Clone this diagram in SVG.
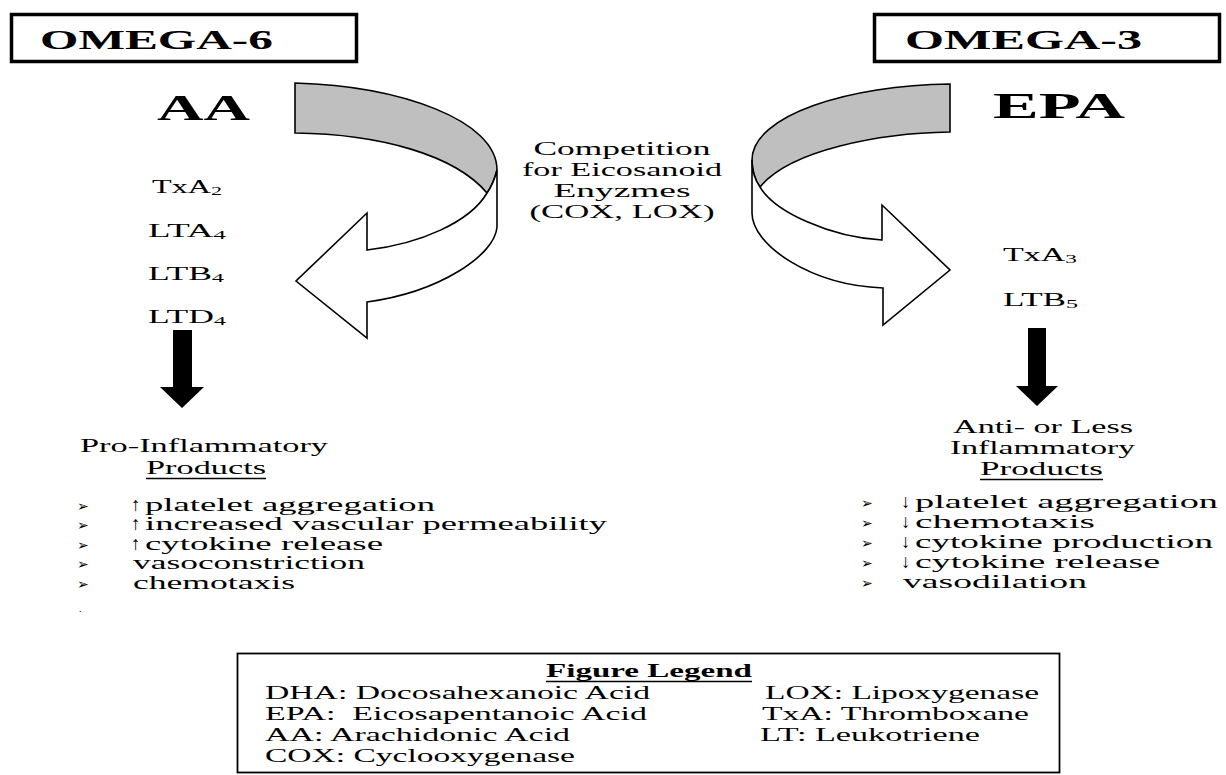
<svg xmlns="http://www.w3.org/2000/svg" width="1226" height="775" viewBox="0 0 1226 775">
<style>
text{font-family:"Liberation Serif","Times New Roman",serif;fill:#000}
.t{font-size:19px}
.lg{font-size:18px;white-space:pre}
.b{font-weight:bold}
.bul{font-family:"DejaVu Sans",sans-serif;font-size:14px}
.ar{font-size:19px}
.box{fill:#fff;stroke:#000}
.rib{stroke:#000;stroke-width:1.6;stroke-linejoin:miter}
.ul{stroke:#000;stroke-width:1.4}
</style>
<rect width="1226" height="775" fill="#fff"/>

<g id="omega6">
<rect class="box" x="11.5" y="14.5" width="345" height="47" stroke-width="3.5"/>
<text class="b" x="40" y="49" font-size="27" textLength="233" lengthAdjust="spacingAndGlyphs">OMEGA-6</text>
</g>
<g id="omega3">
<rect class="box" x="874.5" y="14.5" width="345" height="47" stroke-width="3.5"/>
<text class="b" x="905" y="49" font-size="27" textLength="237" lengthAdjust="spacingAndGlyphs">OMEGA-3</text>
</g>

<g id="aa">
<text class="b" x="157" y="120" font-size="36" textLength="93" lengthAdjust="spacingAndGlyphs">AA</text>
</g>
<g id="epa">
<text class="b" x="993" y="118" font-size="36" textLength="132" lengthAdjust="spacingAndGlyphs">EPA</text>
</g>

<g id="competition">
<text class="t" x="622" y="155" text-anchor="middle" textLength="177" lengthAdjust="spacingAndGlyphs">Competition</text>
<text class="t" x="622" y="176" text-anchor="middle" textLength="200" lengthAdjust="spacingAndGlyphs">for Eicosanoid</text>
<text class="t" x="622" y="197" text-anchor="middle" textLength="137" lengthAdjust="spacingAndGlyphs">Enyzmes</text>
<text class="t" x="622" y="218" text-anchor="middle" textLength="185" lengthAdjust="spacingAndGlyphs">(COX, LOX)</text>
</g>

<g id="aa-products">
<text class="t" x="152" y="193" textLength="70" lengthAdjust="spacingAndGlyphs">TxA<tspan font-size="13" dy="2">2</tspan></text>
<text class="t" x="148" y="237" textLength="78" lengthAdjust="spacingAndGlyphs">LTA<tspan font-size="13" dy="2">4</tspan></text>
<text class="t" x="148" y="280" textLength="76" lengthAdjust="spacingAndGlyphs">LTB<tspan font-size="13" dy="2">4</tspan></text>
<text class="t" x="148" y="323" textLength="78" lengthAdjust="spacingAndGlyphs">LTD<tspan font-size="13" dy="2">4</tspan></text>
</g>

<g id="epa-products">
<text class="t" x="1003" y="261" textLength="74" lengthAdjust="spacingAndGlyphs">TxA<tspan font-size="13" dy="2">3</tspan></text>
<text class="t" x="1003" y="306" textLength="75" lengthAdjust="spacingAndGlyphs">LTB<tspan font-size="13" dy="2">5</tspan></text>
</g>

<g id="connectors">
<g id="left-curved-arrow">
<path class="rib" fill="#bfbfbf" d="M295,83 L295,133 C380,134 455,155 487,193 C492,186 495,178 497,170 C497,120 400,86 295,83 Z"/>
<path class="rib" fill="#fff" d="M497,170 L497,227 C495,255 440,292 367,302 L367,338 L296,281 L367,213 L367,250 C420,244 470,222 487,193 C492,186 495,178 497,170 Z"/>
</g>
<g id="right-curved-arrow">
<path class="rib" fill="#bfbfbf" d="M950,84 L950,132 C880,133 790,150 760,187 C755,180 752,170 752,160 C752,115 850,85 950,84 Z"/>
<path class="rib" fill="#fff" d="M752,160 L752,213 C752,245 810,285 883,288 L883,325 L950,270 L882,205 L882,240 C830,237 775,212 760,187 C755,180 752,170 752,160 Z"/>
</g>
<path id="left-down-arrow" fill="#000" d="M173,330 L192,330 L192,387 L204,387 L182,408 L160,387 L173,387 Z"/>
<path id="right-down-arrow" fill="#000" d="M1028,328 L1046,328 L1046,386 L1058,386 L1037,406 L1016,386 L1028,386 Z"/>
</g>

<g id="pro-inflammatory">
<text class="t" x="80" y="452" textLength="248" lengthAdjust="spacingAndGlyphs">Pro-Inflammatory</text>
<text class="t" x="146" y="474" textLength="120" lengthAdjust="spacingAndGlyphs">Products</text>
<line class="ul" x1="146" y1="478.5" x2="266" y2="478.5"/>
<text class="bul" x="77" y="511">➢</text>
<text class="bul" x="77" y="530">➢</text>
<text class="bul" x="77" y="550">➢</text>
<text class="bul" x="77" y="569">➢</text>
<text class="bul" x="77" y="589">➢</text>
<text class="ar" x="131" y="511">↑</text>
<text class="ar" x="131" y="530">↑</text>
<text class="ar" x="131" y="550">↑</text>
<text class="t" x="145" y="511" textLength="290" lengthAdjust="spacingAndGlyphs">platelet aggregation</text>
<text class="t" x="145" y="530" textLength="462" lengthAdjust="spacingAndGlyphs">increased vascular permeability</text>
<text class="t" x="145" y="550" textLength="238" lengthAdjust="spacingAndGlyphs">cytokine release</text>
<text class="t" x="133" y="569" textLength="232" lengthAdjust="spacingAndGlyphs">vasoconstriction</text>
<text class="t" x="133" y="589" textLength="162" lengthAdjust="spacingAndGlyphs">chemotaxis</text>
<text x="79" y="612" font-size="10">.</text>
</g>

<g id="anti-inflammatory">
<text class="t" x="953" y="433" textLength="180" lengthAdjust="spacingAndGlyphs">Anti- or Less</text>
<text class="t" x="950" y="454" textLength="185" lengthAdjust="spacingAndGlyphs">Inflammatory</text>
<text class="t" x="980" y="475" textLength="123" lengthAdjust="spacingAndGlyphs">Products</text>
<line class="ul" x1="980" y1="479.5" x2="1103" y2="479.5"/>
<text class="bul" x="861" y="508">➢</text>
<text class="bul" x="861" y="528">➢</text>
<text class="bul" x="861" y="548">➢</text>
<text class="bul" x="861" y="568">➢</text>
<text class="bul" x="861" y="588">➢</text>
<text class="ar" x="901" y="508">↓</text>
<text class="ar" x="901" y="528">↓</text>
<text class="ar" x="901" y="548">↓</text>
<text class="ar" x="901" y="568">↓</text>
<text class="t" x="915" y="508" textLength="303" lengthAdjust="spacingAndGlyphs">platelet aggregation</text>
<text class="t" x="915" y="528" textLength="180" lengthAdjust="spacingAndGlyphs">chemotaxis</text>
<text class="t" x="915" y="548" textLength="298" lengthAdjust="spacingAndGlyphs">cytokine production</text>
<text class="t" x="915" y="568" textLength="245" lengthAdjust="spacingAndGlyphs">cytokine release</text>
<text class="t" x="903" y="588" textLength="184" lengthAdjust="spacingAndGlyphs">vasodilation</text>
</g>

<g id="legend">
<rect class="box" x="237.5" y="653.5" width="822" height="119" stroke-width="1.8"/>
<text class="lg b" x="546" y="677" textLength="206" lengthAdjust="spacingAndGlyphs">Figure Legend</text>
<line class="ul" x1="546" y1="681.5" x2="752" y2="681.5"/>
<text class="lg" x="265" y="699" textLength="385" lengthAdjust="spacingAndGlyphs">DHA: Docosahexanoic Acid</text>
<text class="lg" x="265" y="720" textLength="382" lengthAdjust="spacingAndGlyphs">EPA:  Eicosapentanoic Acid</text>
<text class="lg" x="265" y="741" textLength="305" lengthAdjust="spacingAndGlyphs">AA: Arachidonic Acid</text>
<text class="lg" x="265" y="762" textLength="310" lengthAdjust="spacingAndGlyphs">COX: Cyclooxygenase</text>
<text class="lg" x="765" y="699" textLength="274" lengthAdjust="spacingAndGlyphs">LOX: Lipoxygenase</text>
<text class="lg" x="762" y="720" textLength="267" lengthAdjust="spacingAndGlyphs">TxA: Thromboxane</text>
<text class="lg" x="760" y="741" textLength="220" lengthAdjust="spacingAndGlyphs">LT: Leukotriene</text>
</g>
</svg>
